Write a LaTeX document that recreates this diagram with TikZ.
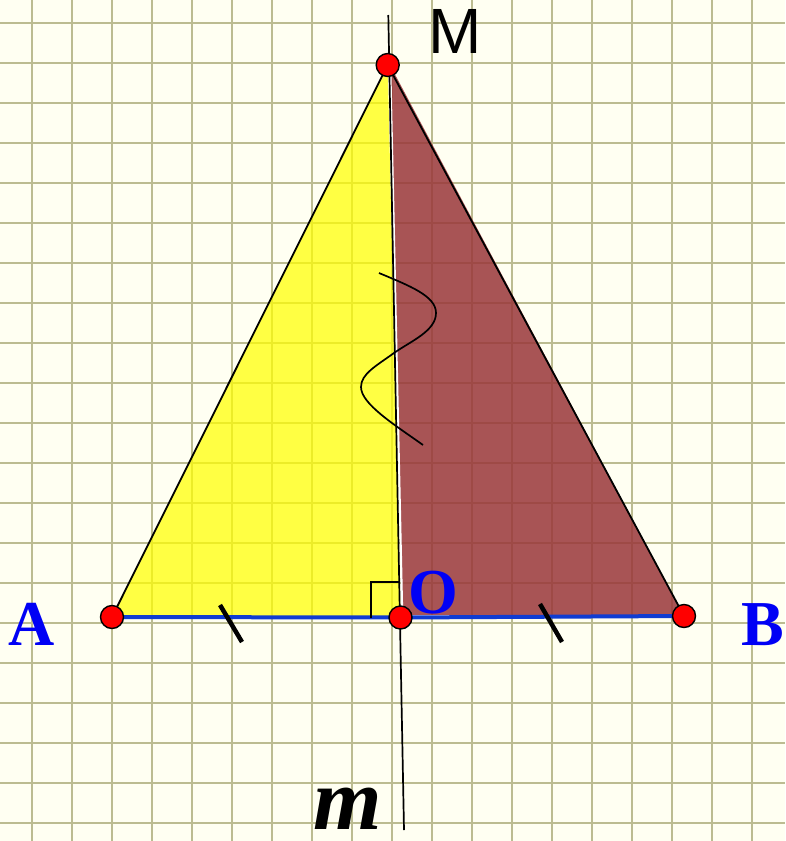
\documentclass[tikz,border=0pt]{standalone}
\usepackage{fontspec}
\setmainfont{Liberation Serif}
\newfontfamily\sansM{Liberation Sans}
\definecolor{bgc}{RGB}{255,255,242}
\definecolor{gridc}{RGB}{188,188,145}
\definecolor{yel}{RGB}{255,255,0}
\definecolor{brn}{RGB}{153,55,58}
\definecolor{segblue}{RGB}{15,60,210}
\definecolor{lblblue}{RGB}{0,0,245}
\tikzset{
  gridline/.style={draw=gridc, line width=2.2pt},
  edge/.style={draw=black, line width=1.8pt},
  pt/.style={circle, fill=red, draw=black, line width=1.4pt, minimum size=23pt, inner sep=0pt},
  tick/.style={draw=black, line width=4.5pt},
  bluelbl/.style={text=lblblue, font=\fontsize{64}{70}\selectfont\bfseries, inner sep=0pt, anchor=base},
}
\begin{document}
\begin{tikzpicture}[x=1pt,y=-1pt]
\useasboundingbox (0,0) rectangle (785,841);
\fill[bgc] (0,0) rectangle (785,841);
% grid
\foreach \i in {0,...,18} {\draw[gridline] (32.3+40*\i,0) -- (32.3+40*\i,841);}
\foreach \j in {0,...,20} {\draw[gridline] (0,23.3+40*\j) -- (785,23.3+40*\j);}
% coordinates
\coordinate (A) at (112,617);
\coordinate (M) at (387.7,65);
\coordinate (O) at (400.5,617.5);
\coordinate (B) at (684,616);
\coordinate (Mr) at (390.5,66);
\coordinate (Or) at (402.5,616);
\coordinate (mt) at (388.3,15);
\coordinate (mb) at (404,830);
% fills
\fill[yel, fill opacity=0.72] (A) -- (M) -- (O) -- cycle;
\fill[brn, fill opacity=0.85] (Mr) -- (B) -- (Or) -- cycle;
% edges
\draw[edge] (A) -- (M);
\draw[edge] (M) -- (B);
\draw[white, line width=1.6pt] (Mr) -- (Or);
\draw[white, line width=1.2pt] (Or) -- (B);
\draw[black, line width=1.7pt] (mt) -- (mb);
% base segment
\draw[segblue, line width=4pt] (A) -- (O) -- (B);
% right angle
\coordinate (r1) at (371,617.5);
\coordinate (r2) at (371,582);
\coordinate (r3) at (399.5,582);
\draw[black, line width=1.6pt] (r1) -- (r2) -- (r3);
% ticks
\coordinate (t1a) at (220,605);
\coordinate (t1b) at (242,642);
\coordinate (t2a) at (540,604);
\coordinate (t2b) at (562,642);
\draw[tick] (t1a) -- (t1b);
\draw[tick] (t2a) -- (t2b);
% s-curve
\coordinate (s1) at (379,273);
\coordinate (s2) at (436,313);
\coordinate (s3) at (394,353);
\coordinate (s4) at (361,387);
\coordinate (s5) at (423,445);
\draw[black, line width=1.7pt] (s1) .. controls (410,286) and (436,296) .. (s2)
  .. controls (436,331) and (411,341) .. (s3)
  .. controls (376,366) and (361,374) .. (s4)
  .. controls (361,404) and (395,425) .. (s5);
% points
\node[pt] (pM) at (M) {};
\node[pt] (pA) at (A) {};
\node[pt] (pO) at (O) {};
\node[pt] (pB) at (B) {};
% labels
\node[bluelbl] (lA) at (32,645) {A};
\node[bluelbl] (lB) at (763,645) {B};
\node[bluelbl] (lO) at (433,613) {O};
\node[font=\fontsize{64}{70}\selectfont\sansM, inner sep=0pt, anchor=base] (lM) at (455,53) {M};
\node[font=\fontsize{88}{94}\selectfont\bfseries\itshape, inner sep=0pt, anchor=base] (lm) at (348,829) {m};
\end{tikzpicture}
\end{document}
